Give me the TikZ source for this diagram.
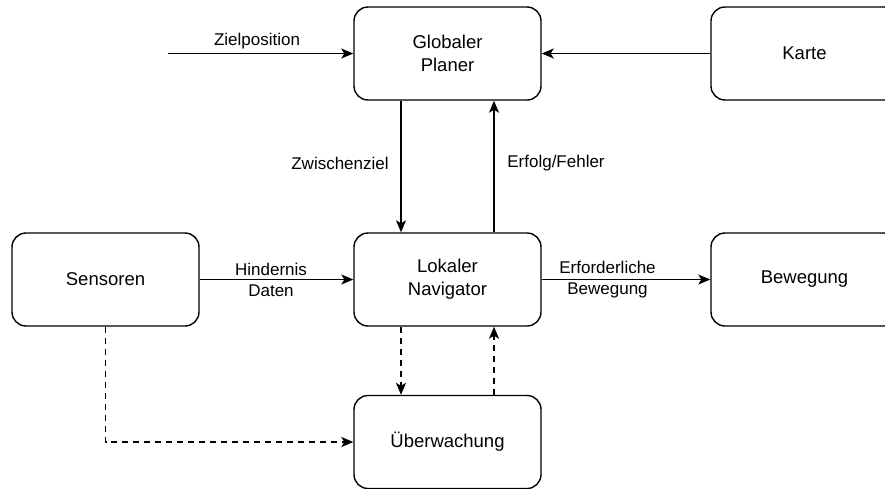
\documentclass[tikz,border=0pt]{standalone}
\usepackage{fontspec}
\setmainfont{Liberation Sans}
\usetikzlibrary{arrows.meta}
\tikzset{
  block/.style={draw, line width=1.4pt, rounded corners=14pt, minimum width=187pt, minimum height=93pt, inner sep=0pt, align=center, font=\fontsize{18.5}{23}\selectfont},
  lbl/.style={inner sep=0.75pt, align=center, font=\fontsize{17}{21}\selectfont},
  flow/.style={line width=1.4pt, -{Stealth[length=12pt, width=10pt, inset=3pt]}},
  dflow/.style={flow, dash pattern=on 6pt off 5pt}
}

\begin{document}
\begin{tikzpicture}[x=1pt,y=1pt,yscale=-1,xscale=1]
\clip (0,0) rectangle (885,488);

% Blocks
\node [block] (glob) at (447.5,53.5) {Globaler\\Planer};
\node [block] (karte) at (804.5,53.5) {Karte};
\node [block] (sens) at (105.5,279.5) {Sensoren};
\node [block] (lok) at (447.5,279.5) {Lokaler\\Navigator};
\node [block] (beweg) at (804.5,279.5) {Bewegung};
\node [block] (ueber) at (447.5,442) {Überwachung};

\coordinate (ziel) at (168,53.5);
\coordinate (knick) at (105.5,442);

% Connectors
\draw [flow] (ziel) -- (glob.west);
\draw [flow] (karte.west) -- (glob.east);
\draw [flow] (glob.south -| 401,0) -- (lok.north -| 401,0);
\draw [flow] (lok.north -| 494,0) -- (glob.south -| 494,0);
\draw [flow] (sens.east) -- (lok.west);
\draw [flow] (lok.east) -- (beweg.west);
\draw [dflow] (lok.south -| 401,0) -- (ueber.north -| 401,0);
\draw [dflow] (ueber.north -| 494,0) -- (lok.south -| 494,0);
\draw [dflow] (sens.south) -- (knick) -- (ueber.west);

% Text Node
\node [lbl] (tziel) at (257,41) {Zielposition};
% Text Node
\node [lbl] (tzw) at (340,163) {Zwischenziel};
% Text Node
\node [lbl] (terf) at (556,163) {Erfolg/Fehler};
% Text Node
\node [lbl] (thin) at (271,280) {Hindernis\\Daten};
% Text Node
\node [lbl] (terb) at (607.5,280) {Erforderliche\\Bewegung};

\end{tikzpicture}
\end{document}
